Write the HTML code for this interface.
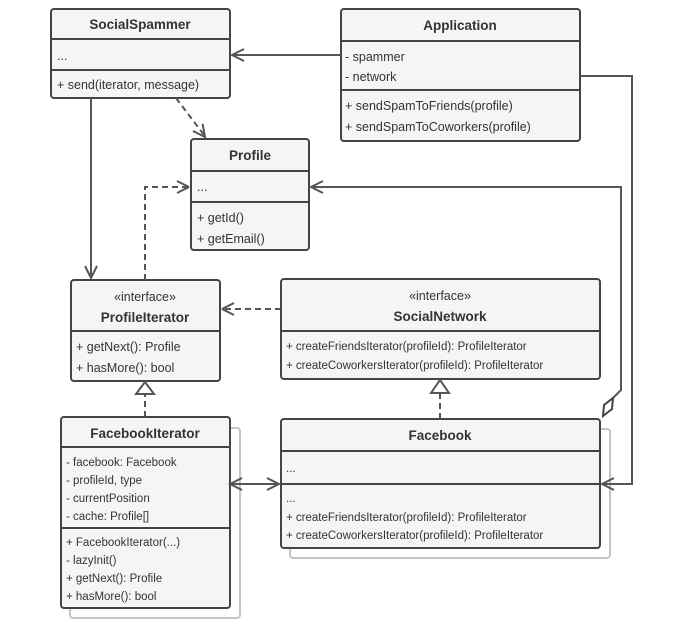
<!DOCTYPE html>
<html><head><style>
body{margin:0;background:#fff;}
svg text{font-family:"Liberation Sans",sans-serif;fill:#333;font-size:12.5px;}
.t{font-weight:bold;font-size:13.5px;}
.s{font-size:11.5px;}
</style></head><body>
<svg width="693" height="631" viewBox="0 0 693 631" xmlns="http://www.w3.org/2000/svg">
<g fill="none" stroke="#c4c4c4" stroke-width="2">
<rect x="70" y="428" width="170" height="190" rx="3"/>
<rect x="290" y="429" width="320" height="129" rx="3"/>
</g>
<g fill="#f5f5f5" stroke="#444" stroke-width="2">
<rect x="51" y="9" width="179" height="89" rx="3"/>
<rect x="341" y="9" width="239" height="132" rx="3"/>
<rect x="191" y="139" width="118" height="111" rx="3"/>
<rect x="71" y="280" width="149" height="101" rx="3"/>
<rect x="281" y="279" width="319" height="100" rx="3"/>
<rect x="61" y="417" width="169" height="191" rx="3"/>
<rect x="281" y="419" width="319" height="129" rx="3"/>
</g>
<g stroke="#444" stroke-width="2">
<line x1="51" y1="39" x2="230" y2="39"/><line x1="51" y1="70" x2="230" y2="70"/>
<line x1="341" y1="41" x2="580" y2="41"/><line x1="341" y1="90" x2="580" y2="90"/>
<line x1="191" y1="171" x2="309" y2="171"/><line x1="191" y1="202" x2="309" y2="202"/>
<line x1="71" y1="331" x2="220" y2="331"/>
<line x1="281" y1="331" x2="600" y2="331"/>
<line x1="61" y1="447" x2="230" y2="447"/><line x1="61" y1="528" x2="230" y2="528"/>
<line x1="281" y1="451" x2="600" y2="451"/><line x1="281" y1="484" x2="600" y2="484"/>
</g>
<g fill="none" stroke="#555" stroke-width="2">
<path d="M341 55H232M244 49L232 55L244 61"/>
<path d="M580 76H632V484H602M614 478L602 484L614 490"/>
<path d="M311 187H621V390L613 398M323 181L311 187L323 193"/>
<path d="M91 98V278M85 266L91 278L97 266"/>
<path d="M230 484H279M242 478L230 484L242 490M267 478L279 484L267 490"/>
<path d="M202.6 123.8L205 137L193 131"/>
<path d="M189 187L177 181M189 187L177 193"/>
<path d="M222 309L234 303M222 309L234 315"/>
</g>
<g fill="none" stroke="#555" stroke-width="2" stroke-dasharray="6,4">
<path d="M176 98L204 135"/>
<path d="M145 280V187H189"/>
<path d="M281 309H222"/>
<path d="M145 417V393"/>
<path d="M440 419V393"/>
</g>
<g fill="#fff" stroke="#555" stroke-width="2">
<path d="M145 382L136 394H154Z"/>
<path d="M440 380L431 393H449Z"/>
<path d="M613 398L612 409L603 416L604 405Z" stroke="#444"/>
</g>
<text class="t" x="140" y="29" text-anchor="middle">SocialSpammer</text>
<text x="57" y="60">...</text>
<text x="57" y="89">+ send(iterator, message)</text>
<text class="t" x="460" y="30" text-anchor="middle">Application</text>
<text x="345" y="61">- spammer</text>
<text x="345" y="81">- network</text>
<text x="345" y="110">+ sendSpamToFriends(profile)</text>
<text x="345" y="131">+ sendSpamToCoworkers(profile)</text>
<text class="t" x="250" y="160" text-anchor="middle">Profile</text>
<text x="197" y="191">...</text>
<text x="197" y="222">+ getId()</text>
<text x="197" y="243">+ getEmail()</text>
<text x="145" y="301" text-anchor="middle">«interface»</text>
<text class="t" x="145" y="322" text-anchor="middle">ProfileIterator</text>
<text x="76" y="351">+ getNext(): Profile</text>
<text x="76" y="372">+ hasMore(): bool</text>
<text x="440" y="300" text-anchor="middle">«interface»</text>
<text class="t" x="440" y="321" text-anchor="middle">SocialNetwork</text>
<text class="s" x="286" y="350">+ createFriendsIterator(profileId): ProfileIterator</text>
<text class="s" x="286" y="369">+ createCoworkersIterator(profileId): ProfileIterator</text>
<text class="t" x="145" y="438" text-anchor="middle">FacebookIterator</text>
<text class="s" x="66" y="466">- facebook: Facebook</text>
<text class="s" x="66" y="484">- profileId, type</text>
<text class="s" x="66" y="502">- currentPosition</text>
<text class="s" x="66" y="520">- cache: Profile[]</text>
<text class="s" x="66" y="546">+ FacebookIterator(...)</text>
<text class="s" x="66" y="564">-  lazyInit()</text>
<text class="s" x="66" y="582">+ getNext(): Profile</text>
<text class="s" x="66" y="600">+ hasMore(): bool</text>
<text class="t" x="440" y="440" text-anchor="middle">Facebook</text>
<text class="s" x="286" y="472">...</text>
<text class="s" x="286" y="502">...</text>
<text class="s" x="286" y="521">+ createFriendsIterator(profileId): ProfileIterator</text>
<text class="s" x="286" y="539">+ createCoworkersIterator(profileId): ProfileIterator</text>
</svg>
</body></html>
